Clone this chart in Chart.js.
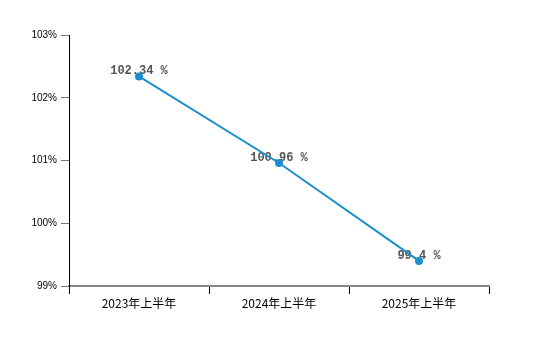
<!DOCTYPE html>
<html>
<head>
<meta charset="utf-8">
<script src="https://cdn.jsdelivr.net/npm/chart.js@4"></script>
<style>
  html, body { margin: 0; padding: 0; background: #fff; }
  #wrap { width: 560px; height: 346px; }
</style>
</head>
<body>
<div id="wrap"><canvas id="chart"></canvas></div>
<script>
const periods = ['2023年上半年', '2024年上半年', '2025年上半年'];
const ratios = [102.34, 100.96, 99.4];
const yTicks = [99, 100, 101, 102, 103];

const LINE_COLOR = '#1b8fcb';

// value text above each point, painted under the line and markers
const pointLabels = {
  id: 'pointLabels',
  beforeDatasetsDraw(chart) {
    const { ctx } = chart;
    const meta = chart.getDatasetMeta(0);
    ctx.save();
    ctx.font = 'bold 12px "Liberation Mono", monospace';
    ctx.fillStyle = '#555';
    ctx.textAlign = 'center';
    ctx.textBaseline = 'middle';
    meta.data.forEach((pt, i) => {
      ctx.fillText(ratios[i] + ' %', pt.x, pt.y - 5);
    });
    ctx.restore();
  }
};

new Chart(document.getElementById('chart'), {
  type: 'line',
  data: {
    labels: periods,
    datasets: [{
      data: ratios,
      borderColor: LINE_COLOR,
      backgroundColor: LINE_COLOR,
      borderWidth: 2,
      pointRadius: 4,
      pointBorderWidth: 0,
      pointHoverRadius: 4,
      tension: 0,
    }]
  },
  options: {
    responsive: true,
    maintainAspectRatio: false,
    animation: false,
    layout: { padding: { top: 35, right: 71, bottom: 30, left: 0 } },
    plugins: {
      legend: { display: false },
      tooltip: { enabled: false },
    },
    scales: {
      x: {
        offset: true,
        grid: {
          offset: true,
          drawOnChartArea: false,
          drawTicks: true,
          tickLength: 8,
          color: '#000',
        },
        border: { color: '#888', width: 2 },
        ticks: {
          color: '#000',
          font: { family: '"Noto Sans CJK SC", "Liberation Sans", sans-serif', size: 12 },
          padding: 2,
          maxRotation: 0,
        },
        afterFit(scale) { scale.height = 30; },
      },
      y: {
        min: 99,
        max: 103,
        afterBuildTicks(scale) {
          scale.ticks = yTicks.map(v => ({ value: v }));
        },
        grid: {
          drawOnChartArea: false,
          drawTicks: true,
          tickLength: 8,
          color: '#777',
        },
        border: { color: '#000', width: 1 },
        ticks: {
          color: '#000',
          font: { family: '"Liberation Sans", sans-serif', size: 10 },
          padding: 4,
          callback: v => v + '%',
        },
        afterFit(scale) { scale.width = 69; },
      }
    }
  },
  plugins: [pointLabels]
});
</script>
</body>
</html>
